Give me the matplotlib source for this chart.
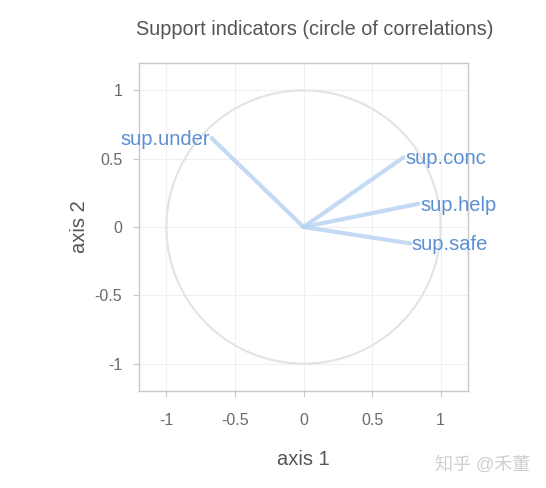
import numpy as np
import matplotlib
matplotlib.use("Agg")
import matplotlib.pyplot as plt

# circle of correlations - support indicators
names = ["sup.under", "sup.conc", "sup.help", "sup.safe"]
axis1 = [-0.67, 0.73, 0.84, 0.78]
axis2 = [0.65, 0.51, 0.17, -0.12]
ticks = [-1, -0.5, 0, 0.5, 1]
tick_labels = ["-1", "-0.5", "0", "0.5", "1"]

plt.rcParams['font.family'] = ['Liberation Sans', 'Noto Sans CJK SC', 'DejaVu Sans']

fig = plt.figure(figsize=(5.46, 4.88), dpi=100)
ax = fig.add_axes([0.2546, 0.1988, 0.6026, 0.672])

# unit circle
t = np.linspace(0, 2 * np.pi, 300)
ax.plot(np.cos(t), np.sin(t), color='#e3e3e3', lw=1.5, zorder=2)

# vectors and labels
for n, x, y in zip(names, axis1, axis2):
    ax.plot([0, x], [0, y], color='#b9d3f3', lw=3, alpha=0.85,
            solid_capstyle='round', zorder=3)
    if x < 0:
        ax.text(x - 0.01, y - 0.01, n, ha='right', va='center', fontsize=14.5,
                color='#5b8fd4', zorder=4)
    else:
        ax.text(x + 0.01, y - 0.01, n, ha='left', va='center', fontsize=14.5,
                color='#5b8fd4', zorder=4)

ax.set_xlim(-1.2, 1.2)
ax.set_ylim(-1.2, 1.2)
ax.set_xticks(ticks)
ax.set_xticklabels(tick_labels)
ax.set_yticks(ticks)
ax.set_yticklabels(tick_labels)
ax.grid(True, color='#f0f0f0', lw=0.8, zorder=0)
ax.set_axisbelow(True)
for s in ax.spines.values():
    s.set_color('#c8c8c8')
    s.set_linewidth(1)
ax.tick_params(colors='#c8c8c8', labelcolor='#6a6a6a', labelsize=11.5,
               length=4, pad=8)
ax.tick_params(axis='x', pad=12)

ax.set_xlabel('axis 1', fontsize=14.5, color='#555555', labelpad=16)
ax.set_ylabel('axis 2', fontsize=14.5, color='#555555', labelpad=4)
fig.text(0.577, 0.94, 'Support indicators (circle of correlations)',
         ha='center', va='center', fontsize=14.3, color='#555555')

# watermark
fig.text(0.972, 0.048, '知乎 @禾董', ha='right', va='center', fontsize=13,
         color='#d0d0d0')

fig.savefig('out.png', dpi=100)
